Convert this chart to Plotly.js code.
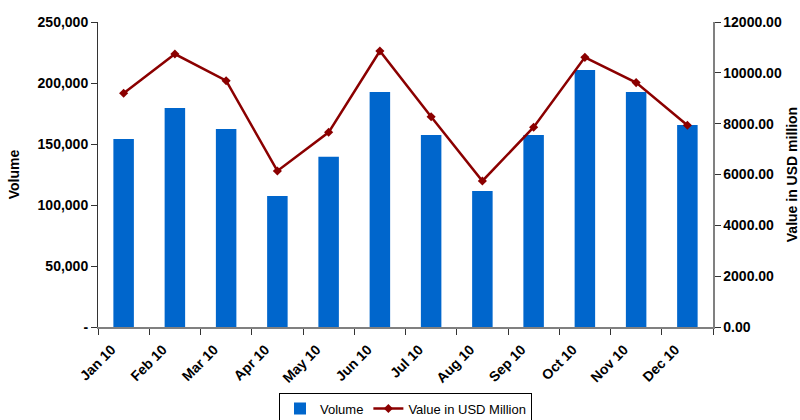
<!DOCTYPE html>
<html>
<head>
<meta charset="utf-8">
<script src="https://cdn.plot.ly/plotly-3.0.1.min.js"></script>
<style>html,body{margin:0;padding:0;background:#fff;}#chart{width:800px;height:420px;}</style>
</head>
<body>
<div id="chart"></div>
<script>
const months = ["Jan 10","Feb 10","Mar 10","Apr 10","May 10","Jun 10","Jul 10","Aug 10","Sep 10","Oct 10","Nov 10","Dec 10"];
const volume = [154000,179500,162300,107400,139600,192600,157400,111500,157400,210700,192600,165600];
const valueUSD = [9195,10740,9690,6140,7660,10860,8270,5745,7860,10610,9615,7935];
const volTicks = [0,50000,100000,150000,200000,250000];
const volTickText = ["-","50,000","100,000","150,000","200,000","250,000"];
const valTicks = [0,2000,4000,6000,8000,10000,12000];
const valTickText = ["0.00","2000.00","4000.00","6000.00","8000.00","10000.00","12000.00"];

const tickFont = {family:"Liberation Sans, Arial, sans-serif", size:14, color:"#000", weight:"bold"};
const data = [
  {type:"bar", name:"Volume", x:months, y:volume, marker:{color:"#0066CC"}, yaxis:"y"},
  {type:"scatter", mode:"lines+markers", name:"Value in USD Million", x:months, y:valueUSD, yaxis:"y2",
   line:{color:"#8B0000", width:2.5}, marker:{symbol:"diamond", size:7, color:"#8B0000"}}
];
const layout = {
  width:800, height:420,
  margin:{l:98, r:87, t:22, b:93, autoexpand:false},
  paper_bgcolor:"#fff", plot_bgcolor:"#fff",
  bargap:0.6,
  showlegend:true,
  font:{family:"Liberation Sans, Arial, sans-serif", color:"#000"},
  xaxis:{type:"category", range:[-0.5, months.length - 0.5], tickangle:-45, tickfont:tickFont, showline:true, linecolor:"#808080", linewidth:2,
         ticks:"outside", tickson:"boundaries", ticklen:6, tickcolor:"#333", showgrid:false, zeroline:false, automargin:false,
         ticklabelshift:-12, ticklabelstandoff:7},
  yaxis:{range:[0,250000], tickvals:volTicks, ticktext:volTickText, tickfont:tickFont, showline:true, automargin:false,
         linecolor:"#333", linewidth:1, ticks:"outside", ticklen:6, tickcolor:"#333", showgrid:false, zeroline:false,
         title:{text:"Volume", font:{size:14, weight:"bold", color:"#000"}, standoff:14}},
  yaxis2:{range:[0,12000], overlaying:"y", side:"right", tickvals:valTicks, ticktext:valTickText, tickfont:tickFont, automargin:false,
          showline:true, linecolor:"#808080", linewidth:1.5, ticks:"outside", ticklen:6, tickcolor:"#333", showgrid:false, zeroline:false,
          title:{text:"Value in USD million", font:{size:14, weight:"bold", color:"#000"}, standoff:12}},
  legend:{orientation:"h", x:0.5, xanchor:"center", y:-0.215, yanchor:"top", bordercolor:"#000", borderwidth:1,
          font:{size:13, color:"#000"}, itemwidth:30, tracegroupgap:0}
};
Plotly.newPlot("chart", data, layout, {displayModeBar:false, staticPlot:true});
</script>
</body>
</html>
